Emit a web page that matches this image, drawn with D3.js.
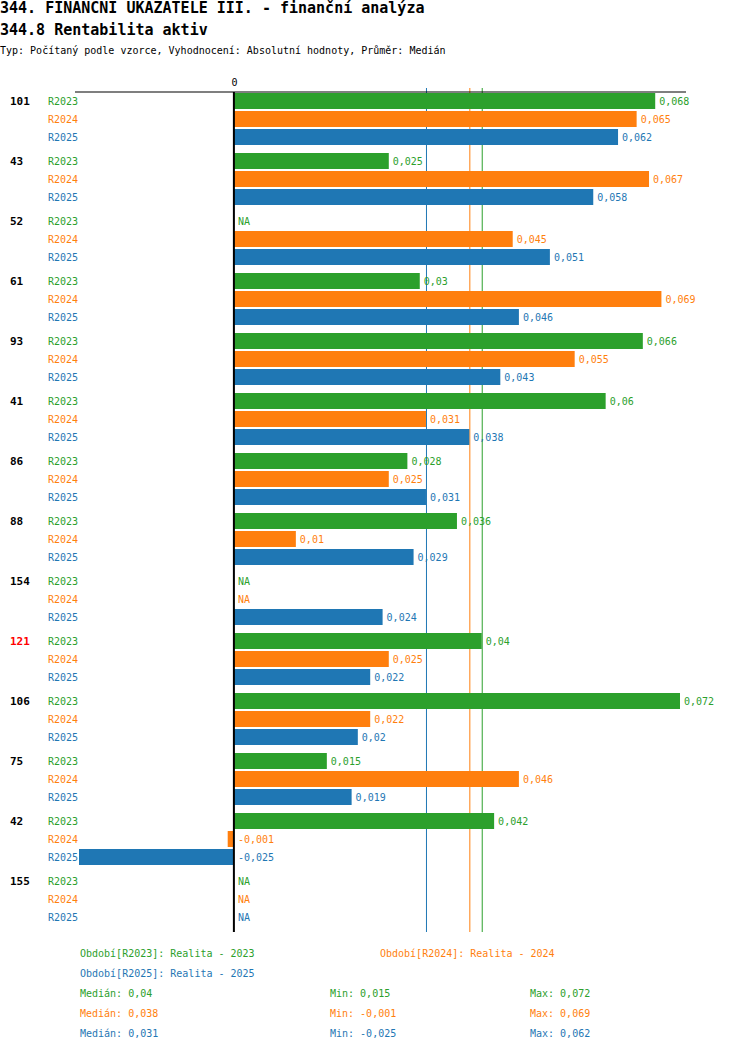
<!DOCTYPE html>
<html>
<head>
<meta charset="utf-8">
<script src="https://cdn.jsdelivr.net/npm/d3@7"></script>
<style>
    body { margin: 0; background: #fff; }
    text { font-family: "DejaVu Sans Mono", monospace; }
</style>
</head>
<body>
<div id="chart"></div>
<script>
// data
const groups = ["101", "43", "52", "61", "93", "41", "86", "88", "154", "121", "106", "75", "42", "155"];
const highlighted = ["121"];
const series = ["R2023", "R2024", "R2025"];
const seriesNames = ["Realita - 2023", "Realita - 2024", "Realita - 2025"];
const r2023 = [0.068, 0.025, null, 0.03, 0.066, 0.06, 0.028, 0.036, null, 0.04, 0.072, 0.015, 0.042, null];
const r2024 = [0.065, 0.067, 0.045, 0.069, 0.055, 0.031, 0.025, 0.01, null, 0.025, 0.022, 0.046, -0.001, null];
const r2025 = [0.062, 0.058, 0.051, 0.046, 0.043, 0.038, 0.031, 0.029, 0.024, 0.022, 0.02, 0.019, -0.025, null];
const medians = [0.04, 0.038, 0.031];
const mins = [0.015, -0.001, -0.025];
const maxs = [0.072, 0.069, 0.062];
const colors = ["#2ca02c", "#ff7f0e", "#1f77b4"];

const values = [r2023, r2024, r2025];
const fmt = (v) => String(v).replace(".", ",");

const width = 750, height = 1052;

const svg = d3
    .select("#chart")
    .append("svg")
    .attr("width", width)
    .attr("height", height);

// Titles
svg.append("text").attr("x", 0).attr("y", 13)
    .style("font-size", "15px").style("font-weight", "bold")
    .text("344. FINANČNÍ UKAZATELE III. - finanční analýza");
svg.append("text").attr("x", 0).attr("y", 35)
    .style("font-size", "15px").style("font-weight", "bold")
    .text("344.8 Rentabilita aktiv");
svg.append("text").attr("x", 0).attr("y", 54)
    .style("font-size", "10px")
    .text("Typ: Počítaný podle vzorce, Vyhodnocení: Absolutní hodnoty, Průměr: Medián");

// Scales
const x = d3.scaleLinear()
    .domain([d3.min(mins), d3.max(maxs)])
    .range([79, 680]);

const y = d3.scaleBand()
    .domain(groups)
    .range([92, 92 + groups.length * 60]);

const yInner = d3.scaleBand()
    .domain(series)
    .range([0, 54]);

const plotTop = y.range()[0], plotBottom = y.range()[1];

// median lines
svg.selectAll(".median")
    .data(medians)
    .enter()
    .append("line")
    .attr("x1", (d) => x(d) + 0.5)
    .attr("x2", (d) => x(d) + 0.5)
    .attr("y1", 88)
    .attr("y2", plotBottom)
    .attr("stroke", (d, i) => colors[i])
    .attr("stroke-width", 1);

// top axis with only the 0 tick
const xAxis = svg.append("g")
    .attr("transform", `translate(0,${plotTop})`)
    .call(d3.axisTop(x).tickValues([0]).tickFormat(fmt).tickSize(0).tickPadding(6));
xAxis.select(".domain").remove();
xAxis.selectAll("text")
    .style("font-family", "DejaVu Sans Mono, monospace")
    .style("font-size", "10px")
    .attr("fill", "#000");

svg.append("line")
    .attr("x1", 75).attr("x2", 686)
    .attr("y1", plotTop).attr("y2", plotTop)
    .attr("stroke", "#000").attr("stroke-width", 1.2);

// rows
const rows = [];
groups.forEach((g, gi) => {
    series.forEach((s, si) => {
        rows.push({ group: g, s, si, value: values[si][gi] });
    });
});

// group labels
svg.selectAll(".glabel")
    .data(groups)
    .enter()
    .append("text")
    .attr("x", 10)
    .attr("y", (d) => y(d) + yInner("R2023") + yInner.bandwidth() / 2)
    .attr("dy", "0.35em")
    .style("font-size", "11px")
    .style("font-weight", "bold")
    .attr("fill", (d) => (highlighted.includes(d) ? "#ff0000" : "#000"))
    .text((d) => d);

// series labels
svg.selectAll(".slabel")
    .data(rows)
    .enter()
    .append("text")
    .attr("x", 48)
    .attr("y", (d) => y(d.group) + yInner(d.s) + yInner.bandwidth() / 2)
    .attr("dy", "0.35em")
    .style("font-size", "10px")
    .attr("fill", (d) => colors[d.si])
    .text((d) => d.s);

// bars
svg.selectAll(".bar")
    .data(rows.filter((d) => d.value !== null))
    .enter()
    .append("rect")
    .attr("class", "bar")
    .attr("x", (d) => x(Math.min(0, d.value)))
    .attr("y", (d) => y(d.group) + yInner(d.s) + 1)
    .attr("width", (d) => Math.max(Math.abs(x(d.value) - x(0)), 2))
    .attr("height", yInner.bandwidth() - 2)
    .attr("fill", (d) => colors[d.si]);

// value labels
svg.selectAll(".vlabel")
    .data(rows)
    .enter()
    .append("text")
    .attr("x", (d) => (d.value !== null && d.value > 0 ? x(d.value) : x(0)) + 4)
    .attr("y", (d) => y(d.group) + yInner(d.s) + yInner.bandwidth() / 2)
    .attr("dy", "0.35em")
    .style("font-size", "10px")
    .attr("fill", (d) => colors[d.si])
    .text((d) => (d.value === null ? "NA" : fmt(d.value)));

// zero axis
svg.append("line")
    .attr("x1", x(0)).attr("x2", x(0))
    .attr("y1", plotTop).attr("y2", plotBottom)
    .attr("stroke", "#000").attr("stroke-width", 2);

// legend
const legendPos = [[80, 953], [380, 953], [80, 973]];
series.forEach((s, i) => {
    svg.append("text")
        .attr("x", legendPos[i][0]).attr("y", legendPos[i][1])
        .attr("dy", "0.35em")
        .style("font-size", "10px")
        .attr("fill", colors[i])
        .text(`Období[${s}]: ${seriesNames[i]}`);
});

series.forEach((s, i) => {
    const yy = 993 + i * 20;
    [["Medián", medians[i], 80], ["Min", mins[i], 330], ["Max", maxs[i], 530]].forEach(([lab, v, xx]) => {
        svg.append("text")
            .attr("x", xx).attr("y", yy)
            .attr("dy", "0.35em")
            .style("font-size", "10px")
            .attr("fill", colors[i])
            .text(`${lab}: ${fmt(v)}`);
    });
});
</script>
</body>
</html>
